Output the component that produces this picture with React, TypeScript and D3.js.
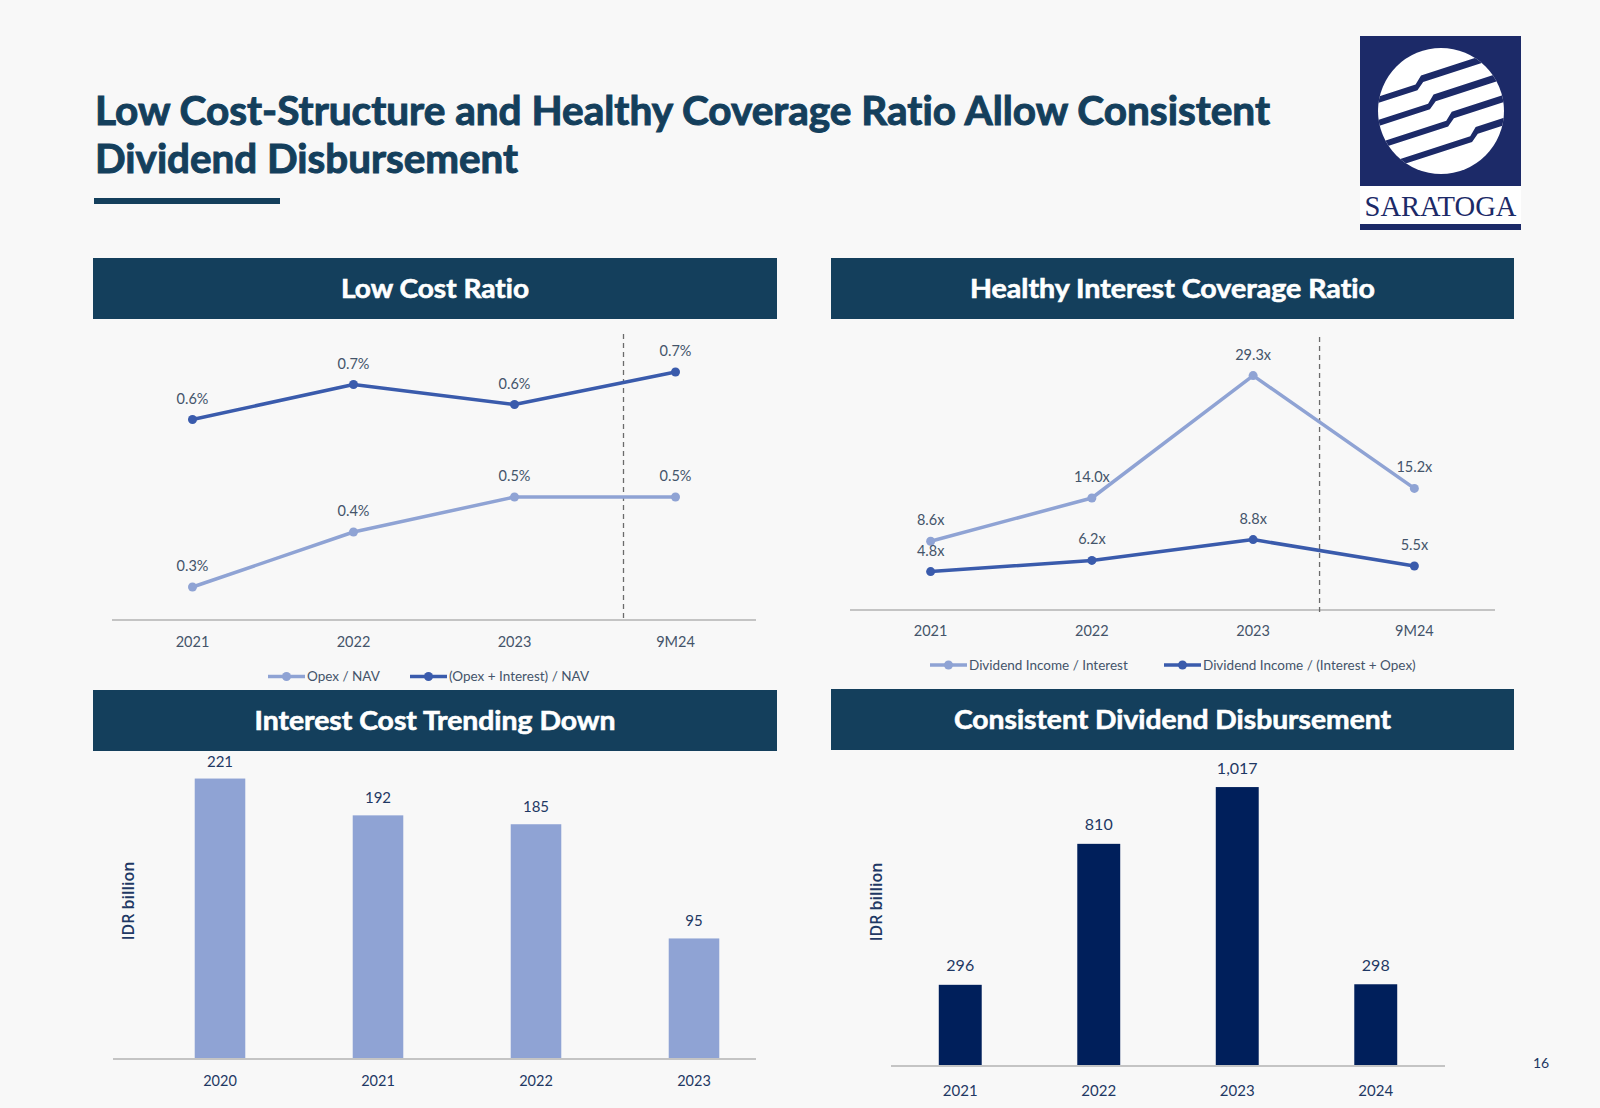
import { scaleBand, scaleLinear, line as d3Line } from "d3";

const W = 1600;
const H = 1108;
const HEAD = "#143F5C";
const LIGHT = "#8FA3D4";
const DARK = "#3A5BAC";
const BAR_DARK = "#001F5B";
const TXT_GRAY = "#44546A";
const TXT_NAVY = "#1F3864";
const LOGO_NAVY = "#1C2A68";
const FONT = "Lato, 'DejaVu Sans', sans-serif";
const NO_LIG = { fontVariantLigatures: "none" } as any;

// Low Cost Ratio
const costYears = ["2021", "2022", "2023", "9M24"];
const opexNav = [0.28, 0.39, 0.46, 0.46];
const opexInterestNav = [0.615, 0.685, 0.645, 0.71];
const costLegend = ["Opex / NAV", "(Opex + Interest) / NAV"];

// Healthy Interest Coverage Ratio
const coverageYears = ["2021", "2022", "2023", "9M24"];
const divToInterest = [8.6, 14.0, 29.3, 15.2];
const divToInterestOpex = [4.8, 6.2, 8.8, 5.5];
const coverageLegend = ["Dividend Income / Interest", "Dividend Income / (Interest + Opex)"];

// Interest Cost Trending Down (IDR billion)
const interestYears = ["2020", "2021", "2022", "2023"];
const interestCost = [221, 192, 185, 95];

// Consistent Dividend Disbursement (IDR billion)
const dividendYears = ["2021", "2022", "2023", "2024"];
const dividendPaid = [296, 810, 1017, 298];

function Header({ x, y, w, h, text, len }: any) {
  return (
    <g>
      <rect x={x} y={y} width={w} height={h} fill={HEAD} />
      <text
        x={x + w / 2}
        y={y + h / 2 + 9.5}
        textAnchor="middle"
        fill="#fff"
        stroke="#fff"
        strokeWidth={0.6}
        fontFamily={FONT}
        fontWeight={700}
        fontSize={26}
        textLength={len}
        lengthAdjust="spacingAndGlyphs"
        style={NO_LIG}
      >
        {text}
      </text>
    </g>
  );
}

function Logo() {
  // gaps in rotated frame: [y, jog x]
  const gaps = [
    [-33, -16],
    [-11, -10],
    [11, 2],
    [33, 20],
  ];
  return (
    <g>
      <rect x={1360} y={36} width={161} height={150} fill={LOGO_NAVY} />
      <rect x={1360} y={186} width={161} height={38} fill="#fff" />
      <rect x={1360} y={224} width={161} height={6} fill={LOGO_NAVY} />
      <text
        x={1440.5}
        y={216}
        textAnchor="middle"
        fontFamily="'Liberation Serif', 'DejaVu Serif', serif"
        fontSize={30}
        fill={LOGO_NAVY}
        textLength={152}
        lengthAdjust="spacingAndGlyphs"
      >
        SARATOGA
      </text>
      <defs>
        <clipPath id="globeClip">
          <circle r={63} />
        </clipPath>
      </defs>
      <g transform="translate(1441,111)">
        <circle r={63} fill="#fff" />
        <g clipPath="url(#globeClip)">
          <g transform="rotate(-18)">
            {gaps.map(([gy, jx], i) => (
              <path
                key={i}
                d={`M-90,${gy} L${jx},${gy} L${jx + 8},${gy - 7} L90,${gy - 7} L90,${gy} L${jx + 8},${gy} L${jx},${gy + 6} L-90,${gy + 6}Z`}
                fill={LOGO_NAVY}
              />
            ))}
          </g>
        </g>
      </g>
    </g>
  );
}

function LinePanel({ cats, series, axisX, axisY, y, dash, tickY, legendY, legendX, fmt }: any) {
  const x = scaleBand<string>().domain(cats).range(axisX);
  const cx = (i: number) => (x(cats[i]) as number) + x.bandwidth() / 2;
  const path = d3Line<number>()
    .x((_: any, i: number) => cx(i))
    .y((d: number) => y(d));
  const dashX = (x(cats[cats.length - 1]) as number) + dash.off * x.step();

  return (
    <g fontFamily={FONT}>
      <line x1={axisX[0]} x2={axisX[1]} y1={axisY} y2={axisY} stroke="#C4C4C4" strokeWidth={2} />
      <line
        x1={dashX}
        x2={dashX}
        y1={dash.top}
        y2={dash.bottom}
        stroke="#6B6B6B"
        strokeWidth={1.3}
        strokeDasharray="5 4"
      />
      {series.map((s: any, k: number) => (
        <g key={k}>
          <path d={path(s.values) as string} fill="none" stroke={s.color} strokeWidth={3.5} strokeLinejoin="round" />
          {s.values.map((v: number, i: number) => (
            <circle key={i} cx={cx(i)} cy={y(v)} r={4.5} fill={s.color} />
          ))}
          {s.values.map((v: number, i: number) => (
            <text key={"t" + i} x={cx(i)} y={y(v) - 16} textAnchor="middle" fontSize={14.5} fill={TXT_GRAY}>
              {fmt(v)}
            </text>
          ))}
        </g>
      ))}
      {cats.map((c: string, i: number) => (
        <text key={c} x={cx(i)} y={tickY} textAnchor="middle" fontSize={14.5} fill={TXT_GRAY}>
          {c}
        </text>
      ))}
      {series.map((s: any, k: number) => (
        <g key={"l" + k}>
          <line x1={legendX[k]} x2={legendX[k] + 37} y1={legendY} y2={legendY} stroke={s.color} strokeWidth={3.5} />
          <circle cx={legendX[k] + 18.5} cy={legendY} r={4.5} fill={s.color} />
          <text x={legendX[k] + 39} y={legendY + 4.5} fontSize={13.5} fill={TXT_GRAY}>
            {s.name}
          </text>
        </g>
      ))}
    </g>
  );
}

function BarPanel({ cats, values, bandRange, pad, axisX, axisY, y, color, tickY, tickSize, valSize, valGap, fmt, idr }: any) {
  const x = scaleBand<string>().domain(cats).range(bandRange).paddingInner(pad).paddingOuter(pad / 2);
  return (
    <g fontFamily={FONT}>
      {values.map((v: number, i: number) => (
        <g key={i}>
          <rect x={x(cats[i])} y={y(v)} width={x.bandwidth()} height={axisY - y(v)} fill={color} />
          <text
            x={(x(cats[i]) as number) + x.bandwidth() / 2}
            y={y(v) - valGap}
            textAnchor="middle"
            fontSize={valSize}
            fill={TXT_NAVY}
          >
            {fmt(v)}
          </text>
          <text
            x={(x(cats[i]) as number) + x.bandwidth() / 2}
            y={tickY}
            textAnchor="middle"
            fontSize={tickSize}
            fill={TXT_NAVY}
          >
            {cats[i]}
          </text>
        </g>
      ))}
      <line x1={axisX[0]} x2={axisX[1]} y1={axisY} y2={axisY} stroke="#C4C4C4" strokeWidth={2} />
      <text
        transform={`translate(${idr[0]},${idr[1]}) rotate(-90)`}
        textAnchor="middle"
        dy="0.35em"
        fontFamily="'Open Sans', sans-serif"
        fontSize={16}
        fontWeight={600}
        fill={TXT_NAVY}
      >
        IDR billion
      </text>
    </g>
  );
}

export default function App() {
  const yCost = scaleLinear().domain([0.214, 0.814]).range([620, 320]);
  const yCover = scaleLinear().domain([0, 35]).range([610, 330]);
  const yInterest = scaleLinear().domain([0, 250]).range([1059, 741.75]);
  const yDividend = scaleLinear().domain([0, 1100]).range([1066, 764.3]);

  return (
    <div style={{ position: "absolute", left: 0, top: 0 }}>
      <svg width={W} height={H} style={{ display: "block" }}>
        <rect width={W} height={H} fill="#F8F8F8" />

        <g fontFamily={FONT} fontWeight={700} fontSize={40} fill={HEAD} stroke={HEAD} strokeWidth={1} style={NO_LIG}>
          <text x={95} y={125} textLength={1175} lengthAdjust="spacingAndGlyphs">
            Low Cost-Structure and Healthy Coverage Ratio Allow Consistent
          </text>
          <text x={95} y={173} textLength={423} lengthAdjust="spacingAndGlyphs">
            Dividend Disbursement
          </text>
        </g>
        <rect x={94} y={198} width={186} height={6} fill={HEAD} />

        <Logo />

        <Header x={93} y={258} w={684} h={61} text="Low Cost Ratio" len={188} />
        <Header x={831} y={258} w={683} h={61} text="Healthy Interest Coverage Ratio" len={405} />
        <Header x={93} y={690} w={684} h={61} text="Interest Cost Trending Down" len={361} />
        <Header x={831} y={689} w={683} h={61} text="Consistent Dividend Disbursement" len={437} />

        <LinePanel
          cats={costYears}
          series={[
            { values: opexNav, color: LIGHT, name: costLegend[0] },
            { values: opexInterestNav, color: DARK, name: costLegend[1] },
          ]}
          axisX={[112, 756]}
          axisY={620}
          y={yCost}
          dash={{ off: 0.177, top: 334, bottom: 620 }}
          tickY={647}
          legendY={676.5}
          legendX={[268, 410]}
          fmt={(v: number) => v.toFixed(1) + "%"}
        />

        <LinePanel
          cats={coverageYears}
          series={[
            { values: divToInterest, color: LIGHT, name: coverageLegend[0] },
            { values: divToInterestOpex, color: DARK, name: coverageLegend[1] },
          ]}
          axisX={[850, 1495]}
          axisY={610}
          y={yCover}
          dash={{ off: -0.088, top: 337, bottom: 615 }}
          tickY={636}
          legendY={665}
          legendX={[930, 1164]}
          fmt={(v: number) => v.toFixed(1) + "x"}
        />

        <BarPanel
          cats={interestYears}
          values={interestCost}
          bandRange={[141, 773]}
          pad={0.68}
          axisX={[113, 756]}
          axisY={1059}
          y={yInterest}
          color={LIGHT}
          tickY={1086}
          tickSize={14.5}
          valSize={15}
          valGap={12}
          fmt={(v: number) => String(v)}
          idr={[128.6, 901]}
        />

        <BarPanel
          cats={dividendYears}
          values={dividendPaid}
          bandRange={[891, 1445]}
          pad={0.69}
          axisX={[891, 1445]}
          axisY={1066}
          y={yDividend}
          color={BAR_DARK}
          tickY={1095.5}
          tickSize={15}
          valSize={16}
          valGap={13.5}
          fmt={(v: number) => v.toLocaleString("en-US")}
          idr={[876.5, 902]}
        />

        <text x={1541} y={1068} textAnchor="middle" fontFamily={FONT} fontSize={14} fill={TXT_NAVY}>
          16
        </text>
      </svg>
    </div>
  );
}
